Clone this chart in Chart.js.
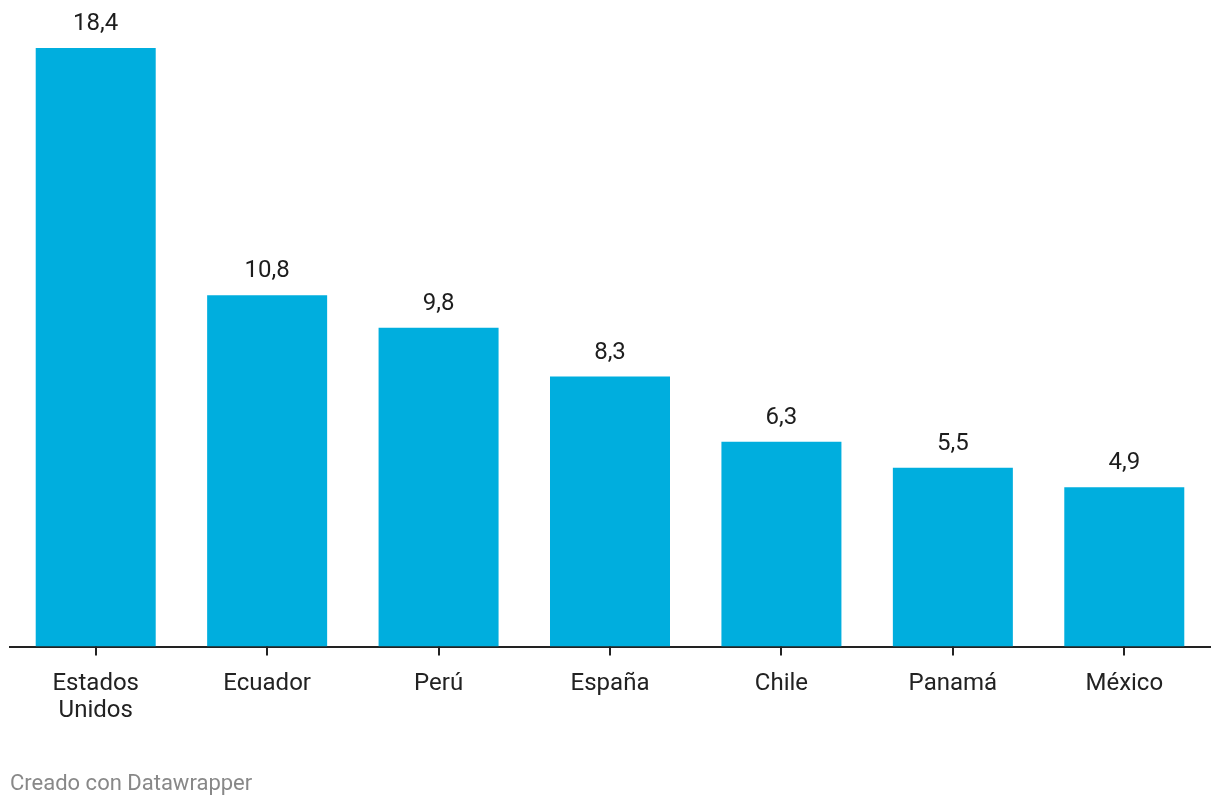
<!DOCTYPE html>
<html>
<head>
<meta charset="utf-8">
<script src="https://cdn.jsdelivr.net/npm/chart.js@4.4.0/dist/chart.umd.min.js"></script>
<style>
  html, body { margin: 0; padding: 0; background: #fff; }
  #wrap { width: 1220px; height: 806px; }
</style>
</head>
<body>
<div id="wrap"><canvas id="chart" width="1220" height="806"></canvas></div>
<script>
// datos
const paises = [['Estados', 'Unidos'], 'Ecuador', 'Perú', 'España', 'Chile', 'Panamá', 'México'];
const valores = [18.4, 10.8, 9.8, 8.3, 6.3, 5.5, 4.9];
const pie = 'Creado con Datawrapper';

// etiquetas de valor encima de cada barra + marcas del eje x
const etiquetasValor = {
  id: 'etiquetasValor',
  afterDatasetsDraw(chart) {
    const ctx = chart.ctx;
    const meta = chart.getDatasetMeta(0);
    ctx.save();
    ctx.font = '24px Roboto';
    ctx.fillStyle = '#1d1d1d';
    ctx.textAlign = 'center';
    ctx.textBaseline = 'middle';
    meta.data.forEach((bar, i) => {
      ctx.fillText(valores[i].toFixed(1).replace('.', ','), bar.x, bar.y - 24);
    });
    // marcas bajo el eje
    const x = chart.scales.x;
    ctx.strokeStyle = '#222';
    ctx.lineWidth = 2;
    x.ticks.forEach((t, i) => {
      const px = Math.round(x.getPixelForTick(i));
      ctx.beginPath();
      ctx.moveTo(px, x.top);
      ctx.lineTo(px, x.top + 9);
      ctx.stroke();
    });
    ctx.restore();
  }
};

const ctx = document.getElementById('chart');
const chart = new Chart(ctx, {
  type: 'bar',
  data: {
    labels: paises,
    datasets: [{
      data: valores,
      backgroundColor: '#00aede',
      barPercentage: 0.7,
      categoryPercentage: 1
    }]
  },
  options: {
    responsive: false,
    animation: false,
    layout: { padding: { left: 10, right: 10, top: 48, bottom: 5 } },
    plugins: {
      legend: { display: false },
      tooltip: { enabled: false },
      title: {
        display: true,
        text: pie,
        position: 'bottom',
        align: 'start',
        color: '#888888',
        font: { family: 'Roboto', size: 22, weight: 'normal' },
        padding: { top: 32, bottom: 3 }
      }
    },
    scales: {
      y: { display: false, min: 0, max: 18.4 },
      x: {
        border: { display: true, color: '#222', width: 2 },
        grid: { display: true, drawOnChartArea: false, drawTicks: true, tickLength: 9, color: 'rgba(0,0,0,0)' },
        ticks: {
          color: '#222',
          padding: 15,
          maxRotation: 0,
          font: { family: 'Roboto', size: 24, lineHeight: '27px' }
        }
      }
    }
  },
  plugins: [etiquetasValor]
});
</script>
</body>
</html>
